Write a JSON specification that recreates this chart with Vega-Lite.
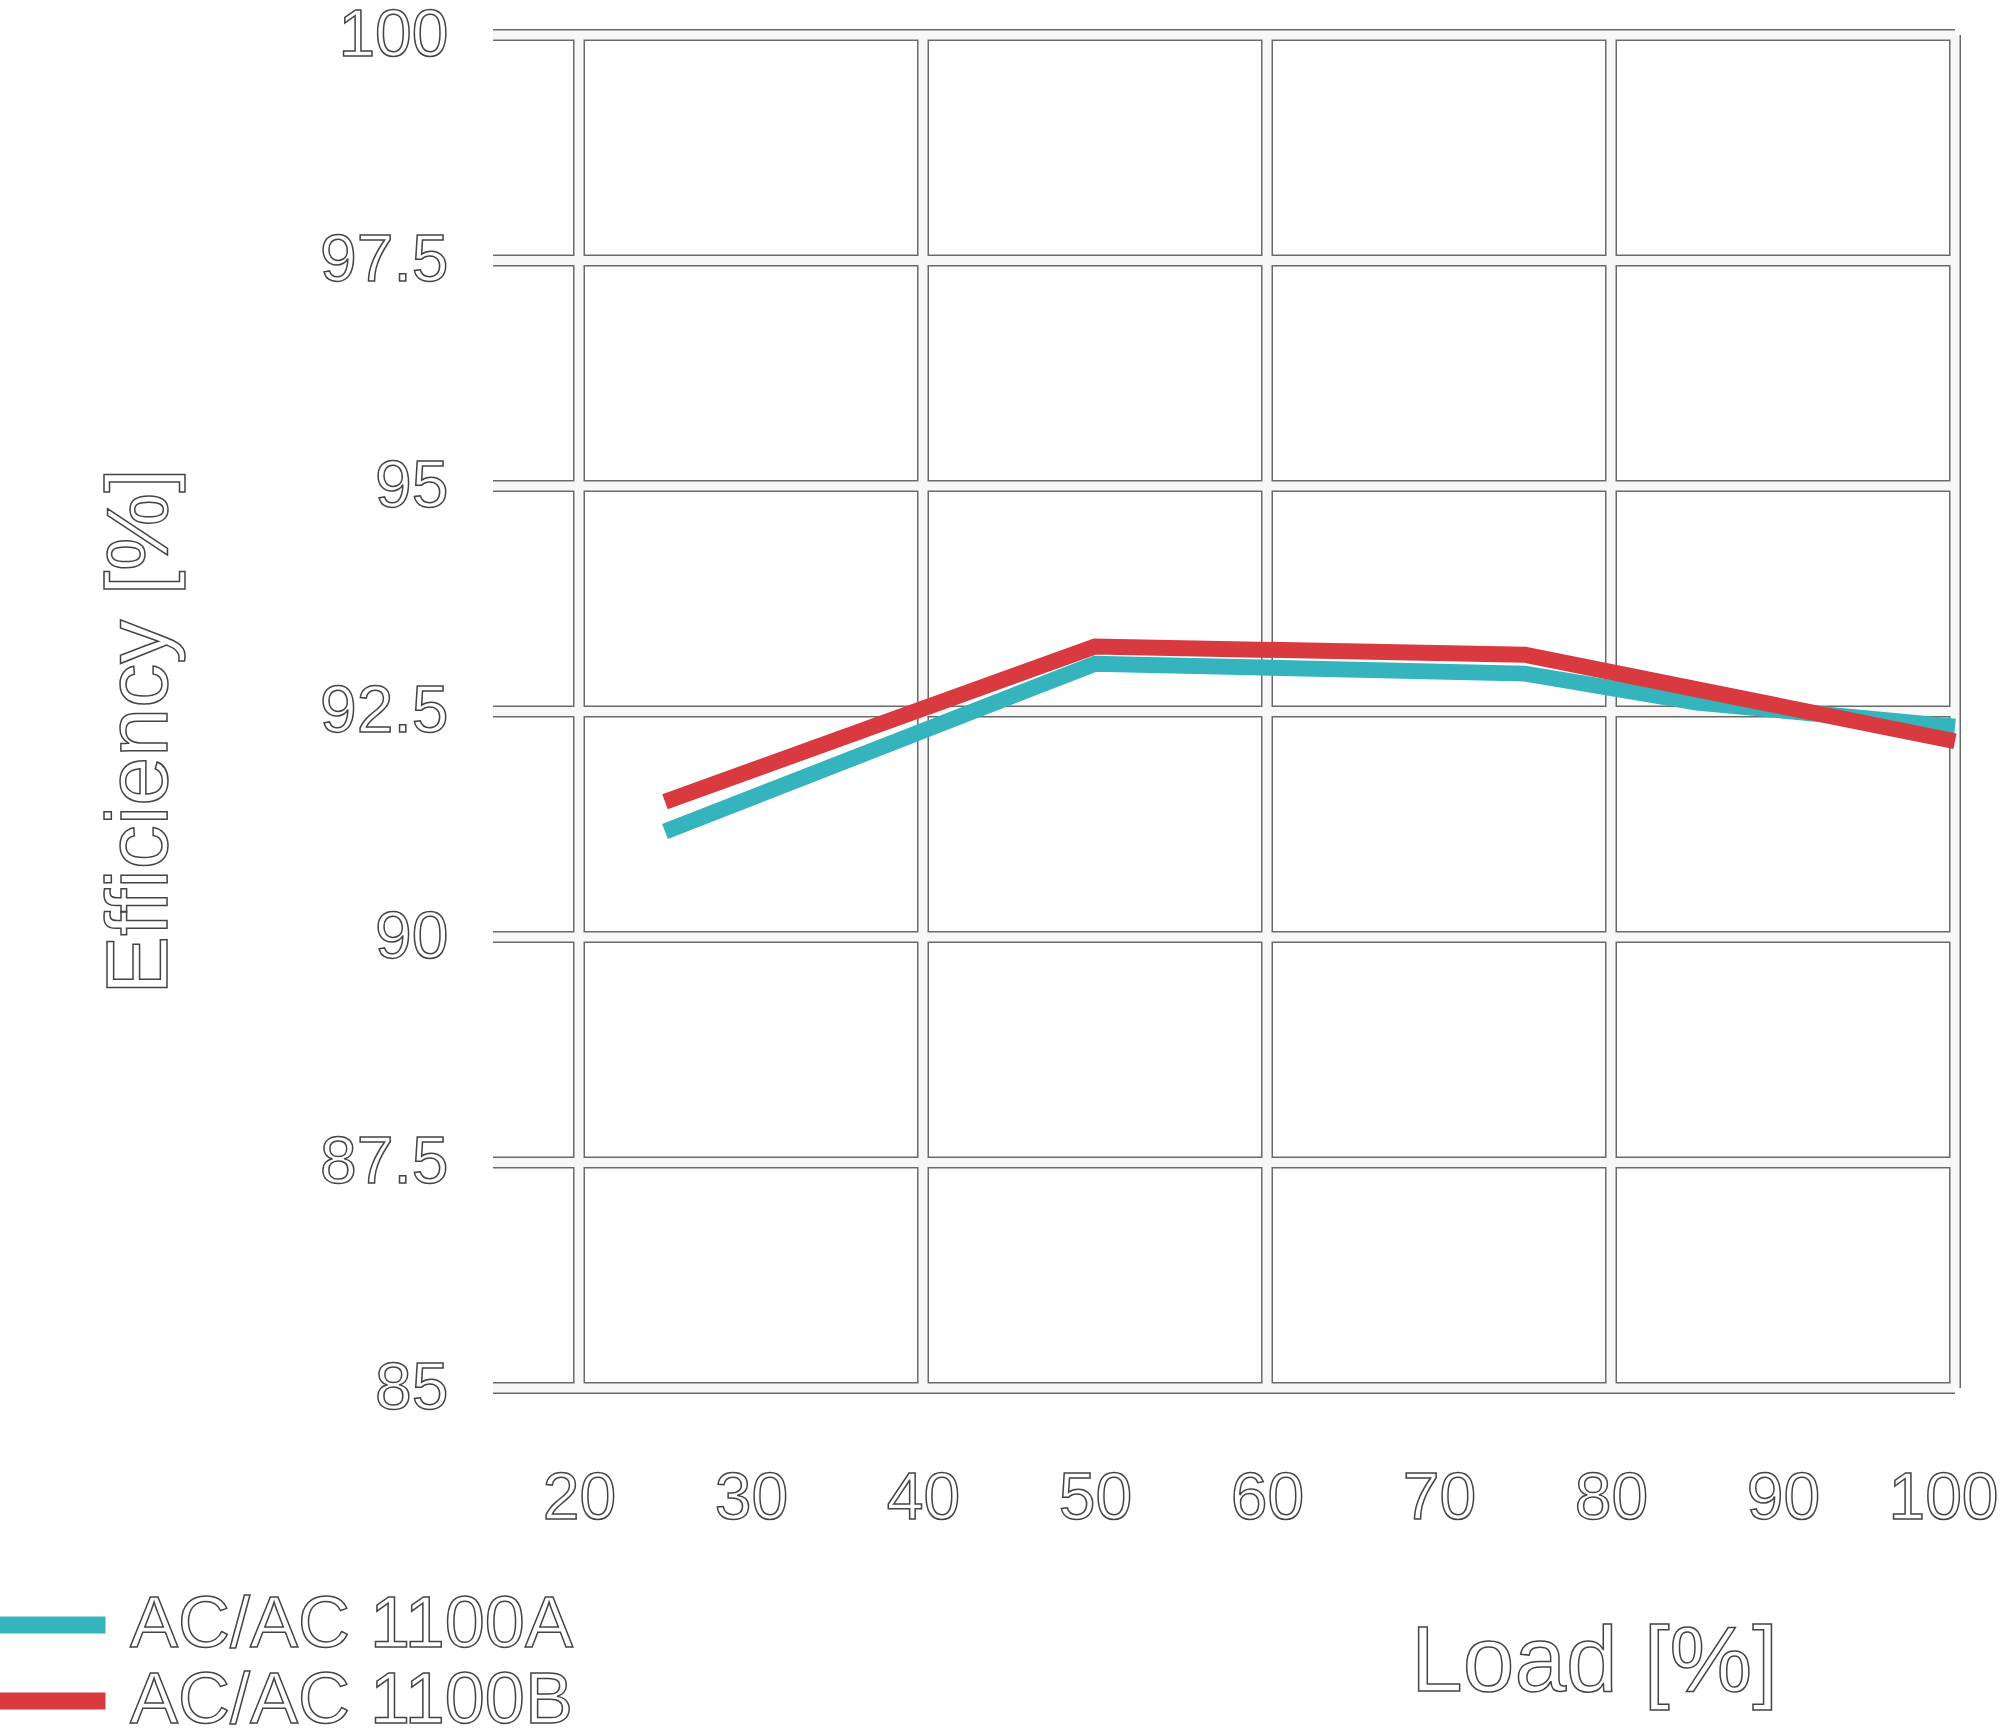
{
  "$schema": "https://vega.github.io/schema/vega-lite/v6.json",
  "width": 1462,
  "height": 1353,
  "autosize": {"type": "none"},
  "padding": {"left": 493, "top": 35, "right": 45, "bottom": 341},
  "background": "white",
  "config": {
    "view": {"stroke": null},
    "font": "Liberation Sans",
    "style": {
      "guide-label": {"fill": "#ffffff", "stroke": "#444444", "strokeWidth": 1.5},
      "guide-title": {"fill": "#ffffff", "stroke": "#444444", "strokeWidth": 1.5}
    }
  },
  "datasets": {
    "vgrid": [{"load": 20}, {"load": 40}, {"load": 60}, {"load": 80}, {"load": 100}],
    "hgrid": [{"eff": 85}, {"eff": 87.5}, {"eff": 90}, {"eff": 92.5}, {"eff": 95}, {"eff": 97.5}, {"eff": 100}],
    "curves": [
      {"series": "AC/AC 1100A", "load": 25, "eff": 91.17},
      {"series": "AC/AC 1100A", "load": 50, "eff": 93.03},
      {"series": "AC/AC 1100A", "load": 75, "eff": 92.92},
      {"series": "AC/AC 1100A", "load": 85, "eff": 92.6},
      {"series": "AC/AC 1100A", "load": 100, "eff": 92.33},
      {"series": "AC/AC 1100B", "load": 25, "eff": 91.5},
      {"series": "AC/AC 1100B", "load": 50, "eff": 93.22},
      {"series": "AC/AC 1100B", "load": 75, "eff": 93.13},
      {"series": "AC/AC 1100B", "load": 100, "eff": 92.17}
    ]
  },
  "layer": [
    {
      "data": {"name": "vgrid"},
      "mark": {"type": "rule", "color": "#6a6a6a", "strokeWidth": 12},
      "encoding": {
        "x": {"field": "load", "type": "quantitative", "scale": {"domain": [15, 100], "nice": false, "zero": false},
          "axis": {
            "title": "Load [%]",
            "values": [20, 30, 40, 50, 60, 70, 80, 90, 100],
            "labelExpr": "'' + datum.value",
            "grid": false, "ticks": false, "tickSize": 0, "domain": false,
            "labelFontSize": 66, "labelPadding": 78, "labelBaseline": "top",
            "labelOffset": {"condition": {"test": "datum.value == 100", "value": -12}, "value": 0},
            "labelFlush": false, "labelOverlap": false,
            "titleFontSize": 93, "titleFontWeight": "normal",
            "titleX": 1101, "titleY": 302, "titleBaseline": "alphabetic", "titleAlign": "center",
            "encode": {
              "labels": {"fill": {"value": "#ffffff"}, "stroke": {"value": "#444444"}, "strokeWidth": {"value": 1.5}},
              "title": {"fill": {"value": "#ffffff"}, "stroke": {"value": "#444444"}, "strokeWidth": {"value": 1.5}}
            }
          }
        }
      }
    },
    {
      "data": {"name": "hgrid"},
      "mark": {"type": "rule", "color": "#6a6a6a", "strokeWidth": 12},
      "encoding": {
        "y": {"field": "eff", "type": "quantitative", "scale": {"domain": [85, 100], "nice": false, "zero": false},
          "axis": {
            "title": "Efficiency [%]",
            "values": [85, 87.5, 90, 92.5, 95, 97.5, 100],
            "labelExpr": "'' + datum.value",
            "grid": false, "ticks": false, "tickSize": 0, "domain": false,
            "labelFontSize": 66, "labelPadding": 45, "labelBaseline": "middle",
            "labelFlush": false, "labelOverlap": false,
            "titleFontSize": 88, "titleFontWeight": "normal",
            "titleX": -327, "titleY": 696, "titleBaseline": "alphabetic", "titleAlign": "center", "titleAngle": 270,
            "encode": {
              "labels": {"fill": {"value": "#ffffff"}, "stroke": {"value": "#444444"}, "strokeWidth": {"value": 1.5}},
              "title": {"fill": {"value": "#ffffff"}, "stroke": {"value": "#444444"}, "strokeWidth": {"value": 1.5}}
            }
          }
        }
      }
    },
    {
      "data": {"name": "vgrid"},
      "mark": {"type": "rule", "color": "#f7f7f7", "strokeWidth": 9},
      "encoding": {
        "x": {"field": "load", "type": "quantitative",
          "axis": {
            "title": "Load [%]",
            "values": [20, 30, 40, 50, 60, 70, 80, 90, 100],
            "labelExpr": "'' + datum.value",
            "grid": false, "ticks": false, "tickSize": 0, "domain": false,
            "labelFontSize": 66, "labelPadding": 78, "labelBaseline": "top",
            "labelOffset": {"condition": {"test": "datum.value == 100", "value": -12}, "value": 0},
            "labelFlush": false, "labelOverlap": false,
            "titleFontSize": 93, "titleFontWeight": "normal",
            "titleX": 1101, "titleY": 302, "titleBaseline": "alphabetic", "titleAlign": "center",
            "encode": {
              "labels": {"fill": {"value": "#ffffff"}, "stroke": {"value": "#444444"}, "strokeWidth": {"value": 1.5}},
              "title": {"fill": {"value": "#ffffff"}, "stroke": {"value": "#444444"}, "strokeWidth": {"value": 1.5}}
            }
          }
        }
      }
    },
    {
      "data": {"name": "hgrid"},
      "mark": {"type": "rule", "color": "#f7f7f7", "strokeWidth": 9},
      "encoding": {
        "y": {"field": "eff", "type": "quantitative",
          "axis": {
            "title": "Efficiency [%]",
            "values": [85, 87.5, 90, 92.5, 95, 97.5, 100],
            "labelExpr": "'' + datum.value",
            "grid": false, "ticks": false, "tickSize": 0, "domain": false,
            "labelFontSize": 66, "labelPadding": 45, "labelBaseline": "middle",
            "labelFlush": false, "labelOverlap": false,
            "titleFontSize": 88, "titleFontWeight": "normal",
            "titleX": -327, "titleY": 696, "titleBaseline": "alphabetic", "titleAlign": "center", "titleAngle": 270,
            "encode": {
              "labels": {"fill": {"value": "#ffffff"}, "stroke": {"value": "#444444"}, "strokeWidth": {"value": 1.5}},
              "title": {"fill": {"value": "#ffffff"}, "stroke": {"value": "#444444"}, "strokeWidth": {"value": 1.5}}
            }
          }
        }
      }
    },
    {
      "data": {"name": "curves"},
      "mark": {"type": "line", "strokeWidth": 16, "strokeCap": "butt", "strokeJoin": "miter"},
      "encoding": {
        "x": {"field": "load", "type": "quantitative",
          "axis": {
            "title": "Load [%]",
            "values": [20, 30, 40, 50, 60, 70, 80, 90, 100],
            "labelExpr": "'' + datum.value",
            "grid": false, "ticks": false, "tickSize": 0, "domain": false,
            "labelFontSize": 66, "labelPadding": 78, "labelBaseline": "top",
            "labelOffset": {"condition": {"test": "datum.value == 100", "value": -12}, "value": 0},
            "labelFlush": false, "labelOverlap": false,
            "titleFontSize": 93, "titleFontWeight": "normal",
            "titleX": 1101, "titleY": 302, "titleBaseline": "alphabetic", "titleAlign": "center",
            "encode": {
              "labels": {"fill": {"value": "#ffffff"}, "stroke": {"value": "#444444"}, "strokeWidth": {"value": 1.5}},
              "title": {"fill": {"value": "#ffffff"}, "stroke": {"value": "#444444"}, "strokeWidth": {"value": 1.5}}
            }
          }
        },
        "y": {"field": "eff", "type": "quantitative",
          "axis": {
            "title": "Efficiency [%]",
            "values": [85, 87.5, 90, 92.5, 95, 97.5, 100],
            "labelExpr": "'' + datum.value",
            "grid": false, "ticks": false, "tickSize": 0, "domain": false,
            "labelFontSize": 66, "labelPadding": 45, "labelBaseline": "middle",
            "labelFlush": false, "labelOverlap": false,
            "titleFontSize": 88, "titleFontWeight": "normal",
            "titleX": -327, "titleY": 696, "titleBaseline": "alphabetic", "titleAlign": "center", "titleAngle": 270,
            "encode": {
              "labels": {"fill": {"value": "#ffffff"}, "stroke": {"value": "#444444"}, "strokeWidth": {"value": 1.5}},
              "title": {"fill": {"value": "#ffffff"}, "stroke": {"value": "#444444"}, "strokeWidth": {"value": 1.5}}
            }
          }
        },
        "color": {
          "field": "series", "type": "nominal",
          "scale": {"domain": ["AC/AC 1100A", "AC/AC 1100B"], "range": ["#35b4bd", "#d83a40"]},
          "legend": {
            "title": null,
            "orient": "none",
            "legendX": -503,
            "legendY": 1552,
            "padding": 0,
            "symbolType": "stroke",
            "symbolSize": 11449,
            "symbolStrokeWidth": 17,
            "clipHeight": 76,
            "rowPadding": 0,
            "labelOffset": 16,
            "labelFontSize": 72,
            "labelLimit": 0,
            "encode": {
              "labels": {"update": {"fill": {"value": "#ffffff"}, "stroke": {"value": "#444444"}, "strokeWidth": {"value": 1.5}}}
            }
          }
        }
      }
    }
  ]
}
